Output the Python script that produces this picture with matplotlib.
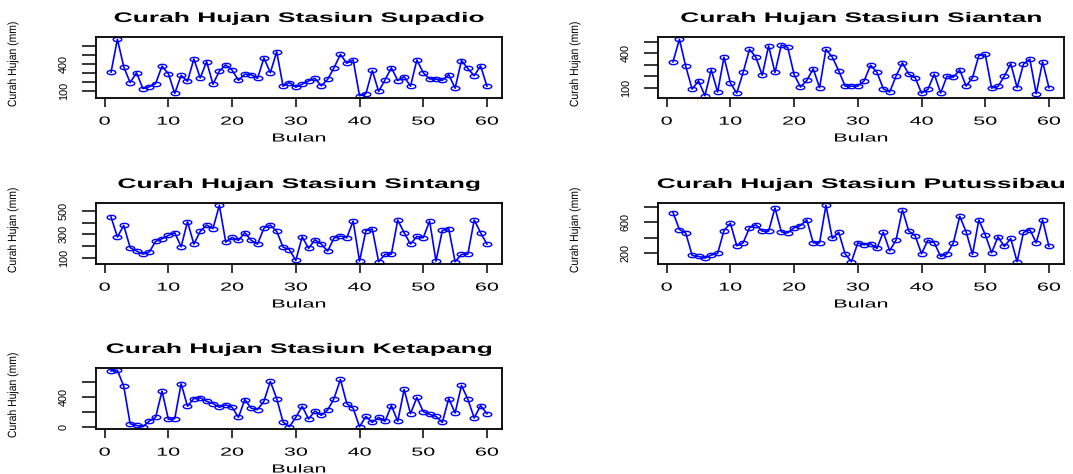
import numpy as np
import matplotlib
matplotlib.use('Agg')
import matplotlib.pyplot as plt
from matplotlib.patheffects import AbstractPathEffect
from matplotlib.transforms import Affine2D
from matplotlib.path import Path

# curah hujan bulanan (mm), 60 bulan
bulan = list(range(1, 61))

supadio = [307, 671, 365, 191, 300, 125, 144, 180, 373, 289,
           71, 271, 205, 453, 242, 424, 173, 318, 387, 329,
           216, 285, 278, 238, 464, 300, 533, 151, 191, 140,
           173, 209, 238, 155, 227, 355, 504, 405, 442, 45,
           67, 325, 93, 220, 355, 213, 256, 151, 442, 300,
           231, 231, 216, 278, 129, 435, 347, 267, 376, 151]

siantan = [326, 520, 286, 91, 163, 34, 257, 66, 366, 143,
           57, 234, 434, 366, 211, 463, 234, 471, 451, 217,
           109, 166, 266, 103, 434, 366, 249, 117, 117, 117,
           163, 297, 237, 94, 66, 203, 317, 220, 189, 57,
           89, 220, 57, 203, 194, 257, 117, 189, 380, 389,
           100, 114, 203, 311, 103, 306, 349, 51, 326, 103]

sintang = [449, 277, 377, 186, 157, 131, 149, 240, 263, 291,
           314, 194, 409, 217, 326, 380, 349, 549, 234, 274,
           249, 314, 249, 217, 354, 380, 326, 191, 169, 77,
           280, 180, 254, 217, 157, 269, 286, 271, 414, 71,
           331, 346, 66, 129, 131, 423, 314, 217, 283, 271,
           414, 71, 334, 349, 66, 129, 131, 423, 314, 217]

putussibau = [725, 505, 458, 170, 157, 135, 174, 196, 492, 587,
              295, 333, 527, 566, 484, 484, 785, 475, 462, 527,
              557, 630, 333, 333, 819, 389, 471, 191, 88, 333,
              308, 320, 260, 471, 230, 368, 759, 484, 424, 191,
              368, 333, 157, 191, 333, 677, 475, 183, 630, 437,
              204, 411, 286, 389, 88, 467, 505, 333, 630, 286]

ketapang = [753, 762, 546, 45, 23, 5, 81, 131, 483, 104,
            113, 582, 280, 383, 392, 347, 316, 266, 298, 266,
            131, 370, 253, 235, 347, 613, 383, 68, 5, 131,
            280, 108, 217, 158, 230, 383, 640, 316, 253, 5,
            144, 63, 131, 77, 289, 77, 505, 180, 397, 208,
            171, 144, 63, 383, 189, 559, 374, 122, 289, 180]

stasiun = ['Supadio', 'Siantan', 'Sintang', 'Putussibau', 'Ketapang']
data = [supadio, siantan, sintang, putussibau, ketapang]

# tick sumbu y dan label yang tampil (R melewatkan label yang bertumpuk)
yticks = [[100, 200, 300, 400, 500, 600],
          [100, 200, 300, 400, 500],
          [100, 200, 300, 400, 500],
          [200, 400, 600, 800],
          [0, 200, 400, 600]]
ylabels = [['100', '', '', '400', '', ''],
           ['100', '', '', '400', ''],
           ['100', '', '300', '', '500'],
           ['200', '', '600', ''],
           ['0', '', '400', '']]
xticks = [0, 10, 20, 30, 40, 50, 60]


class Stretch(AbstractPathEffect):
    """Regangkan teks (gambar asli R terlihat melebar ke samping)."""

    def __init__(self, sx=1.0, sy=1.0):
        super().__init__()
        self.sx = sx
        self.sy = sy

    def draw_path(self, renderer, gc, tpath, affine, rgbFace=None):
        ext = tpath.get_extents(affine)
        cx = (ext.x0 + ext.x1) / 2
        cy = (ext.y0 + ext.y1) / 2
        t = affine + Affine2D().translate(-cx, -cy).scale(self.sx, self.sy).translate(cx, cy)
        renderer.draw_path(gc, tpath, t, rgbFace)


plt.rcParams['font.family'] = ['Liberation Sans', 'DejaVu Sans']

W, H = 1073, 474
fig = plt.figure(figsize=(W / 100, H / 100), dpi=100)

# posisi panel (piksel kiri, atas), lebar dan tinggi tiap panel
posisi = [(96, 37), (658, 37), (96, 203), (658, 203), (96, 368)]
aw, ah = 406, 61

elips = Path.unit_circle().transformed(Affine2D().scale(2.0, 1.0))
biru = '#0000ff'

for i in range(5):
    l, t = posisi[i]
    ax = fig.add_axes([l / W, 1 - (t + ah) / H, aw / W, ah / H])
    ax.plot(bulan, data[i], color=biru, lw=1.2, marker=elips, ms=6.2,
            mfc='none', mec=biru, mew=1.0)
    ax.margins(x=0.04, y=0.04)

    ax.set_xticks(xticks, [str(v) for v in xticks])
    ax.set_yticks(yticks[i], ylabels[i])
    ax.tick_params(axis='x', length=6.5, width=1.1, pad=6.2, labelsize=8.4)
    ax.tick_params(axis='y', length=10, width=1.1, pad=9.6, labelsize=7.8,
                   labelrotation=90)
    for lab in ax.get_yticklabels():
        lab.set_va('center')
    for lab in ax.get_xticklabels():
        lab.set_path_effects([Stretch(1.85, 1.0)])
    for sp in ax.spines.values():
        sp.set_linewidth(1.3)

    judul = ax.set_title('Curah Hujan Stasiun ' + stasiun[i], fontsize=10,
                         fontweight='bold', pad=10.8)
    judul.set_path_effects([Stretch(1.9, 1.0)])

    xl = ax.set_xlabel('Bulan', fontsize=8.4)
    ax.xaxis.set_label_coords(0.5, -40.5 / ah)
    xl.set_va('center')
    xl.set_path_effects([Stretch(1.85, 1.0)])

    yl = ax.set_ylabel('Curah Hujan (mm)', fontsize=8.6)
    ax.yaxis.set_label_coords(-83 / aw, 0.55)
    yl.set_va('center')
    yl.set_path_effects([Stretch(1.0, 0.87)])

fig.savefig('out.png', dpi=100)
